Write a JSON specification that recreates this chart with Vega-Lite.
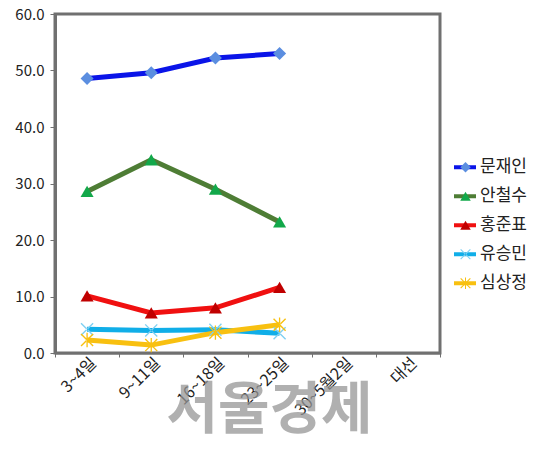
{
  "$schema": "https://vega.github.io/schema/vega-lite/v6.json",
  "autosize": "none",
  "width": 385,
  "height": 339,
  "padding": {"left": 55, "top": 14, "right": 100, "bottom": 101},
  "background": "white",
  "title": {
    "text": "서울경제",
    "orient": "bottom",
    "anchor": "middle",
    "font": "Noto Sans CJK KR",
    "fontWeight": "bold",
    "fontSize": 56,
    "color": "rgba(150,150,150,0.75)",
    "offset": -34,
    "dx": 22
  },
  "config": {
    "font": "Noto Sans CJK KR",
    "view": {"stroke": "#707070", "strokeWidth": 3},
    "axis": {"grid": false, "labelColor": "#222", "labelFontSize": 14, "domainColor": "#707070", "tickColor": "#707070"}
  },
  "data": {
    "values": [
      {"date": "3~4일", "name": "문재인", "v": 48.6},
      {"date": "9~11일", "name": "문재인", "v": 49.6},
      {"date": "16~18일", "name": "문재인", "v": 52.2},
      {"date": "23~25일", "name": "문재인", "v": 53.0},
      {"date": "3~4일", "name": "안철수", "v": 28.6},
      {"date": "9~11일", "name": "안철수", "v": 34.2},
      {"date": "16~18일", "name": "안철수", "v": 29.0},
      {"date": "23~25일", "name": "안철수", "v": 23.2},
      {"date": "3~4일", "name": "홍준표", "v": 10.1},
      {"date": "9~11일", "name": "홍준표", "v": 7.1},
      {"date": "16~18일", "name": "홍준표", "v": 8.0},
      {"date": "23~25일", "name": "홍준표", "v": 11.6},
      {"date": "3~4일", "name": "유승민", "v": 4.2},
      {"date": "9~11일", "name": "유승민", "v": 4.0},
      {"date": "16~18일", "name": "유승민", "v": 4.1},
      {"date": "23~25일", "name": "유승민", "v": 3.5},
      {"date": "3~4일", "name": "심상정", "v": 2.3},
      {"date": "9~11일", "name": "심상정", "v": 1.4},
      {"date": "16~18일", "name": "심상정", "v": 3.6},
      {"date": "23~25일", "name": "심상정", "v": 5.0}
    ]
  },
  "encoding": {
    "x": {
      "field": "date",
      "type": "nominal",
      "sort": null,
      "title": null,
      "scale": {"type": "band", "domain": ["3~4일", "9~11일", "16~18일", "23~25일", "30~5월2일", "대선"], "paddingInner": 0, "paddingOuter": 0},
      "axis": {"labelAngle": -45, "labelAlign": "right", "labelBaseline": "middle", "tickBand": "extent", "tickSize": 4, "labelPadding": 3, "labelOffset": 6, "labelFontSize": 16, "domainWidth": 2}
    },
    "y": {
      "field": "v",
      "type": "quantitative",
      "title": null,
      "scale": {"domain": [0, 60], "nice": false},
      "axis": {"values": [0, 10, 20, 30, 40, 50, 60], "format": ".1f", "labelPadding": 6, "labelFontSize": 15, "domainWidth": 3}
    }
  },
  "layer": [
    {
      "mark": {"type": "line", "strokeWidth": 5},
      "encoding": {
        "stroke": {
          "field": "name",
          "type": "nominal",
          "sort": null,
          "scale": {"range": ["#0a14e8", "#4e7d35", "#f01010", "#10aee8", "#f8c010"]},
          "legend": {"title": null, "orient": "none", "legendX": 397, "legendY": 139, "symbolType": "stroke", "symbolSize": 484, "symbolStrokeWidth": 4, "labelFontSize": 17, "labelColor": "#222", "clipHeight": 28.5, "rowPadding": 0, "labelOffset": 2}
        }
      }
    },
    {
      "mark": {"type": "point", "filled": true, "size": 170, "opacity": 1},
      "encoding": {
        "fill": {
          "field": "name",
          "type": "nominal",
          "scale": {"domain": ["문재인", "안철수", "홍준표", "유승민", "심상정"], "range": ["#5b8ee0", "#12a84a", "#c00000", "#7fd0f2", "#f8c010"]},
          "legend": {"title": null, "orient": "none", "legendX": 402, "legendY": 139, "symbolSize": 110, "symbolStrokeWidth": 0, "labelExpr": "''", "labelFontSize": 17, "clipHeight": 28.5, "rowPadding": 0, "labelOffset": 2}
        },
        "shape": {
          "field": "name",
          "type": "nominal",
          "scale": {"domain": ["문재인", "안철수", "홍준표", "유승민", "심상정"], "range": ["diamond", "triangle-up", "triangle-up", "M-1,-0.85L-0.85,-1L1,0.85L0.85,1ZM-1,0.85L-0.85,1L1,-0.85L0.85,-1Z", "M-1,-0.85L-0.85,-1L1,0.85L0.85,1ZM-1,0.85L-0.85,1L1,-0.85L0.85,-1ZM-0.1,-1.1L0.1,-1.1L0.1,1.1L-0.1,1.1Z"]},
          "legend": {"title": null, "orient": "none", "legendX": 402, "legendY": 139, "symbolSize": 110, "symbolStrokeWidth": 0, "labelExpr": "''", "labelFontSize": 17, "clipHeight": 28.5, "rowPadding": 0, "labelOffset": 2}
        }
      }
    }
  ]
}
